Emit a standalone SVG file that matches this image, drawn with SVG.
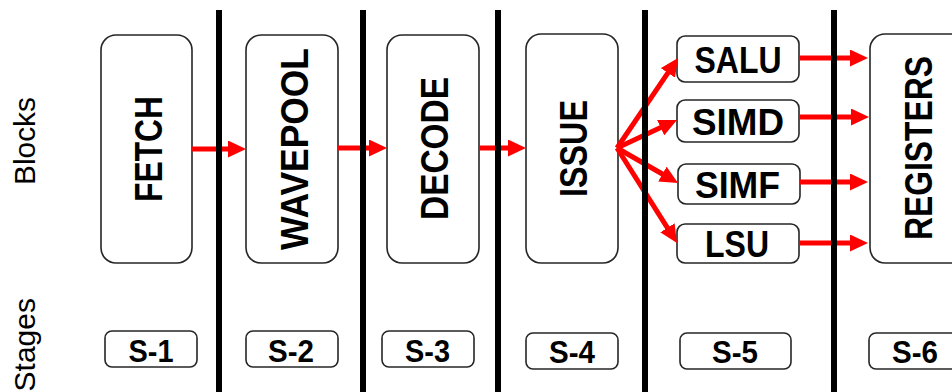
<svg xmlns="http://www.w3.org/2000/svg" width="952" height="392" viewBox="0 0 952 392">
<style>
.blk{fill:#fff;stroke:#262626;stroke-width:1.6}
.big{font-family:"Liberation Sans",Arial,sans-serif;font-weight:bold;font-size:38px;fill:#000;text-anchor:middle}
.unit{font-family:"Liberation Sans",Arial,sans-serif;font-weight:bold;font-size:36px;fill:#000;text-anchor:middle}
.stg{font-family:"Liberation Sans",Arial,sans-serif;font-weight:bold;font-size:31px;fill:#000;text-anchor:middle}
.side{font-family:"Liberation Sans",Arial,sans-serif;font-size:30px;fill:#000}
.arr{stroke:#ff0000;stroke-width:5;fill:none;marker-end:url(#ah)}
.sep{stroke:#000;stroke-width:6}
</style>
<defs>
<marker id="ah" markerUnits="userSpaceOnUse" viewBox="0 0 18 17" markerWidth="18" markerHeight="17" refX="6" refY="8.5" orient="auto">
<path d="M0,0 L18,8.5 L0,17 Z" fill="#ff0000"/>
</marker>
</defs>

<g id="side-labels">
<text class="side" text-anchor="middle" transform="translate(35,141) rotate(-90)" textLength="88" lengthAdjust="spacingAndGlyphs">Blocks</text>
<text class="side" text-anchor="end" transform="translate(35,298) rotate(-90)">Stages</text>
</g>

<g id="fetch">
<rect class="blk" x="101" y="35" width="91" height="228" rx="15"/>
<text class="big" transform="translate(162,149) rotate(-90)" textLength="106" lengthAdjust="spacingAndGlyphs">FETCH</text>
</g>
<g id="wavepool">
<rect class="blk" x="246" y="35" width="92" height="228" rx="15"/>
<text class="big" transform="translate(308,149) rotate(-90)" textLength="202" lengthAdjust="spacingAndGlyphs">WAVEPOOL</text>
</g>
<g id="decode">
<rect class="blk" x="387" y="35" width="92" height="228" rx="15"/>
<text class="big" transform="translate(448,148.5) rotate(-90)" textLength="143" lengthAdjust="spacingAndGlyphs">DECODE</text>
</g>
<g id="issue">
<rect class="blk" x="526" y="34" width="92" height="229" rx="15"/>
<text class="big" transform="translate(587,148.5) rotate(-90)" textLength="97" lengthAdjust="spacingAndGlyphs">ISSUE</text>
</g>
<g id="registers">
<rect class="blk" x="870" y="34" width="100" height="229" rx="15"/>
<text class="big" transform="translate(932,148) rotate(-90)" textLength="184" lengthAdjust="spacingAndGlyphs">REGISTERS</text>
</g>

<g id="salu">
<rect class="blk" x="677" y="36" width="122" height="46" rx="8"/>
<text class="unit" x="738" y="73" textLength="87" lengthAdjust="spacingAndGlyphs">SALU</text>
</g>
<g id="simd">
<rect class="blk" x="677" y="100" width="122" height="42" rx="8"/>
<text class="unit" x="738" y="135" textLength="92" lengthAdjust="spacingAndGlyphs">SIMD</text>
</g>
<g id="simf">
<rect class="blk" x="678" y="164" width="122" height="40" rx="8"/>
<text class="unit" x="737.5" y="198" textLength="85" lengthAdjust="spacingAndGlyphs">SIMF</text>
</g>
<g id="lsu">
<rect class="blk" x="677" y="224" width="122" height="39" rx="8"/>
<text class="unit" x="737" y="257" textLength="64" lengthAdjust="spacingAndGlyphs">LSU</text>
</g>

<g id="s1">
<rect class="blk" x="105" y="331" width="92" height="36" rx="7"/>
<text class="stg" x="151" y="362" textLength="45" lengthAdjust="spacingAndGlyphs">S-1</text>
</g>
<g id="s2">
<rect class="blk" x="246" y="331" width="92" height="36" rx="7"/>
<text class="stg" x="291" y="362" textLength="46" lengthAdjust="spacingAndGlyphs">S-2</text>
</g>
<g id="s3">
<rect class="blk" x="382" y="331" width="92" height="36" rx="7"/>
<text class="stg" x="427.5" y="362" textLength="45" lengthAdjust="spacingAndGlyphs">S-3</text>
</g>
<g id="s4">
<rect class="blk" x="526" y="333" width="92" height="36" rx="7"/>
<text class="stg" x="572" y="363" textLength="46" lengthAdjust="spacingAndGlyphs">S-4</text>
</g>
<g id="s5">
<rect class="blk" x="680" y="333" width="111" height="36" rx="7"/>
<text class="stg" x="735" y="363" textLength="46" lengthAdjust="spacingAndGlyphs">S-5</text>
</g>
<g id="s6">
<rect class="blk" x="869" y="333" width="100" height="36" rx="7"/>
<text class="stg" x="915" y="363" textLength="46" lengthAdjust="spacingAndGlyphs">S-6</text>
</g>

<g id="connectors">
<line class="arr" x1="192" y1="149" x2="234" y2="149"/>
<line class="arr" x1="338" y1="148" x2="375" y2="148"/>
<line class="arr" x1="479" y1="148" x2="514" y2="148"/>
<line class="arr" x1="617" y1="148" x2="671.3" y2="67.9"/>
<line class="arr" x1="617" y1="148" x2="666.1" y2="125.1"/>
<line class="arr" x1="617" y1="148" x2="667.6" y2="177"/>
<line class="arr" x1="617" y1="148" x2="670.6" y2="232.9"/>
<line class="arr" x1="799" y1="58" x2="856" y2="58"/>
<line class="arr" x1="799" y1="117" x2="857" y2="117"/>
<line class="arr" x1="800" y1="182" x2="856" y2="182"/>
<line class="arr" x1="799" y1="243" x2="856" y2="243"/>
</g>

<g id="separators">
<line class="sep" x1="219" y1="10" x2="219" y2="392"/>
<line class="sep" x1="363" y1="10" x2="363" y2="392"/>
<line class="sep" x1="498" y1="10" x2="498" y2="392"/>
<line class="sep" x1="645" y1="10" x2="645" y2="392"/>
<line class="sep" x1="834" y1="10" x2="834" y2="392"/>
</g>
</svg>
